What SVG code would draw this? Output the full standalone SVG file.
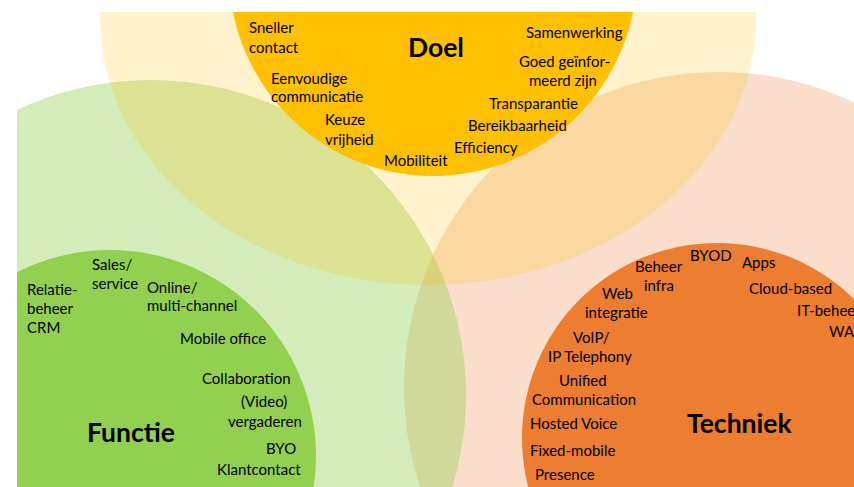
<svg xmlns="http://www.w3.org/2000/svg" width="854" height="487" viewBox="0 0 854 487">
<defs>
<clipPath id="frame"><rect x="17" y="12" width="837" height="475"/></clipPath>
<style>
.t{font-family:Lato,"Liberation Sans",sans-serif;font-size:15px;fill:#000}
.h{font-family:Lato,"Liberation Sans",sans-serif;font-size:26.5px;font-weight:bold;fill:#000}
</style>
</defs>
<rect width="854" height="487" fill="#fff"/>
<g clip-path="url(#frame)">
<g id="outer-circles">
<circle id="techniek-outer" cx="719" cy="387" r="315" fill="#ED7D31" fill-opacity="0.25"/>
<circle id="functie-outer" cx="151" cy="395" r="315" fill="#92D050" fill-opacity="0.4"/>
<ellipse id="doel-outer" cx="428" cy="18" rx="328" ry="267" fill="#FFC000" fill-opacity="0.2"/>
</g>
<g id="doel">
<circle cx="433" cy="-28" r="204" fill="#FFC000"/>
<text class="h" x="408" y="56.5">Doel</text>
<text class="t" x="249" y="33">Sneller</text>
<text class="t" x="249" y="53">contact</text>
<text class="t" x="271" y="83.5">Eenvoudige</text>
<text class="t" x="271" y="102">communicatie</text>
<text class="t" x="325" y="125">Keuze</text>
<text class="t" x="325" y="144.5">vrijheid</text>
<text class="t" x="384" y="166">Mobiliteit</text>
<text class="t" x="454" y="153">Efficiency</text>
<text class="t" x="468" y="131">Bereikbaarheid</text>
<text class="t" x="489" y="108.5">Transparantie</text>
<text class="t" x="529" y="86">meerd zijn</text>
<text class="t" x="519" y="66.5">Goed geïnfor-</text>
<text class="t" x="526" y="38">Samenwerking</text>
</g>
<g id="functie">
<circle cx="110" cy="456" r="206" fill="#92D050"/>
<text class="h" x="87" y="441.5">Functie</text>
<text class="t" x="92" y="269.5">Sales/</text>
<text class="t" x="92" y="288.5">service</text>
<text class="t" x="27" y="295">Relatie-</text>
<text class="t" x="27" y="314">beheer</text>
<text class="t" x="27" y="333">CRM</text>
<text class="t" x="147" y="292.5">Online/</text>
<text class="t" x="147" y="311">multi-channel</text>
<text class="t" x="180" y="344">Mobile office</text>
<text class="t" x="202" y="384">Collaboration</text>
<text class="t" x="241" y="407">(Video)</text>
<text class="t" x="228" y="427">vergaderen</text>
<text class="t" x="266" y="453.5">BYO</text>
<text class="t" x="217" y="475">Klantcontact</text>
</g>
<g id="techniek">
<circle cx="717" cy="438" r="195" fill="#ED7D31"/>
<text class="h" x="687" y="433">Techniek</text>
<text class="t" x="690" y="261">BYOD</text>
<text class="t" x="635" y="272">Beheer</text>
<text class="t" x="644" y="291">infra</text>
<text class="t" x="742" y="267.5">Apps</text>
<text class="t" x="602" y="298.5">Web</text>
<text class="t" x="585" y="317.5">integratie</text>
<text class="t" x="749" y="293.5">Cloud-based</text>
<text class="t" x="797" y="316">IT-beheer</text>
<text class="t" x="829" y="337">WAN</text>
<text class="t" x="573" y="343">VoIP/</text>
<text class="t" x="548" y="362">IP Telephony</text>
<text class="t" x="559" y="386">Unified</text>
<text class="t" x="532" y="405">Communication</text>
<text class="t" x="530" y="429">Hosted Voice</text>
<text class="t" x="530" y="456">Fixed-mobile</text>
<text class="t" x="535" y="479.5">Presence</text>
</g>
</g>
</svg>
